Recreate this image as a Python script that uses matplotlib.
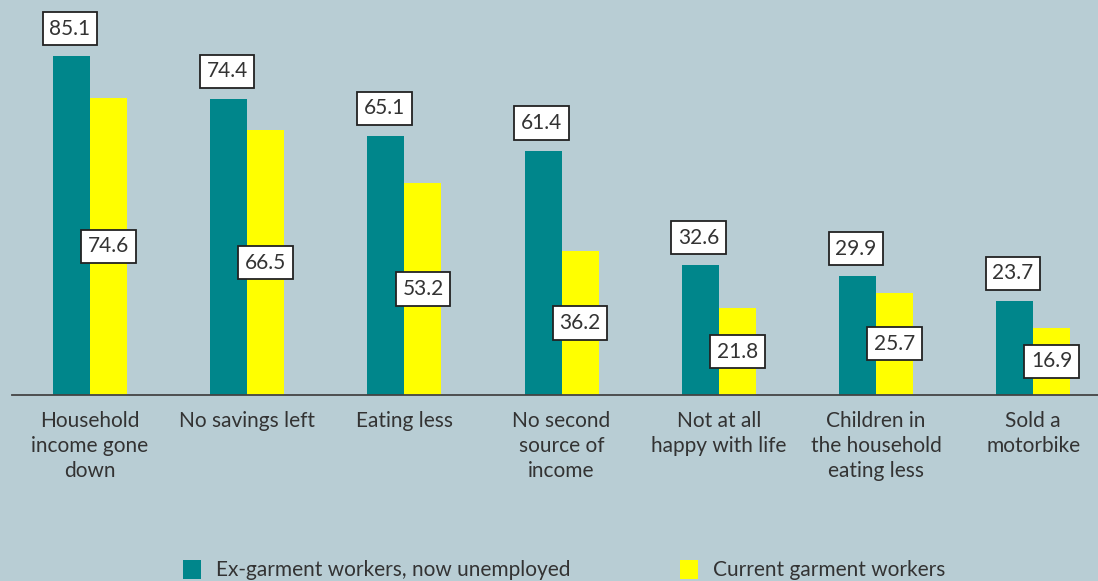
"""Grouped bars: hardship indicators for ex-garment vs current garment workers."""
import matplotlib
matplotlib.use("Agg")
import matplotlib.pyplot as plt
import numpy as np

CATEGORIES = [
    "Household\nincome gone\ndown",
    "No savings left",
    "Eating less",
    "No second\nsource of\nincome",
    "Not at all\nhappy with life",
    "Children in\nthe household\neating less",
    "Sold a\nmotorbike",
]
EX_WORKERS = [85.1, 74.4, 65.1, 61.4, 32.6, 29.9, 23.7]
CURRENT_WORKERS = [74.6, 66.5, 53.2, 36.2, 21.8, 25.7, 16.9]
SERIES_NAMES = ["Ex-garment workers, now unemployed", "Current garment workers"]

COLOR_EX = "#00868B"
COLOR_CUR = "#FFFF00"
BG = "#B8CDD4"
TEXT = "#333333"
FS = 15

plt.rcParams["font.family"] = ["Lato", "DejaVu Sans"]

W, H = 1098, 581
fig = plt.figure(figsize=(W / 100, H / 100), dpi=100, facecolor=BG)
ax = fig.add_axes([12 / W, 1 - 395 / H, 1 - 12 / W, 395 / H])
ax.set_facecolor(BG)

x = np.arange(len(CATEGORIES))
bw = 0.236
ax.bar(x - bw / 2, EX_WORKERS, bw, color=COLOR_EX, zorder=2)
ax.bar(x + bw / 2, CURRENT_WORKERS, bw, color=COLOR_CUR, zorder=2)

box = dict(boxstyle="square,pad=0.32", facecolor="white", edgecolor="#222222", linewidth=1.3)
for xi, v in zip(x, EX_WORKERS):
    ax.annotate(f"{v}", (xi - bw / 2 - 0.01, v), xytext=(0, 12.5), textcoords="offset points",
                ha="center", va="bottom", fontsize=FS, color=TEXT, bbox=box, zorder=4)
for xi, v in zip(x, CURRENT_WORKERS):
    ax.text(xi + bw / 2, v / 2, f"{v}", ha="center", va="center",
            fontsize=FS, color=TEXT, bbox=box, zorder=4)

ax.set_xlim(-78 / 157.2, (1098 - 90) / 157.2)
ax.set_ylim(0, 99.2)
ax.set_xticks(x)
ax.set_xticklabels(CATEGORIES, fontsize=FS, color=TEXT, linespacing=1.32)
ax.tick_params(axis="x", length=0, pad=11.5)
ax.set_yticks([])
for s in ["top", "right", "left"]:
    ax.spines[s].set_visible(False)
ax.spines["bottom"].set_color("#444444")
ax.spines["bottom"].set_linewidth(1.3)

# legend drawn as squares + labels at the bottom
for px, color, name in [(183, COLOR_EX, SERIES_NAMES[0]), (680, COLOR_CUR, SERIES_NAMES[1])]:
    fig.patches.append(plt.Rectangle((px / W, 1 - 579 / H), 18 / W, 19 / H,
                                     transform=fig.transFigure, facecolor=color, edgecolor="none"))
    fig.text((px + 33) / W, 1 - 570 / H, name, ha="left", va="center", fontsize=FS, color=TEXT)

fig.savefig("out.png", dpi=100, facecolor=BG)
